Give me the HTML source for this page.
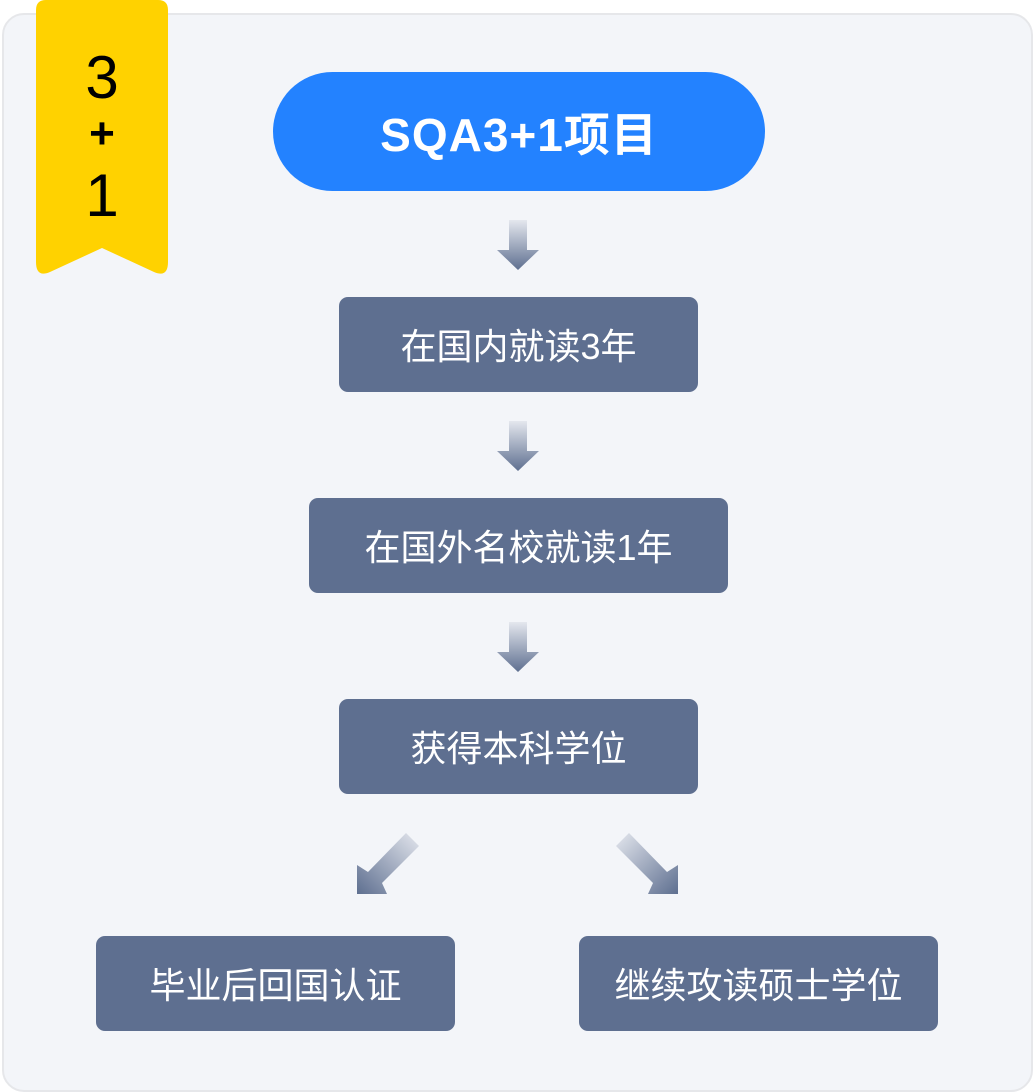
<!DOCTYPE html>
<html><head><meta charset="utf-8"><style>
body{margin:0;width:1035px;height:1092px;background:#fff;position:relative;overflow:hidden;font-family:"Liberation Sans","Noto Sans CJK SC",sans-serif}
.card{position:absolute;left:2px;top:13px;width:1027px;height:1075px;background:#f3f5f9;border:2px solid #e6e7ea;border-radius:22px}
.box{position:absolute;background:#5e6f90;color:#fff;border-radius:9px;font-size:36px;display:flex;align-items:center;justify-content:center;padding-bottom:2px;box-sizing:border-box}
.pill{position:absolute;left:273px;top:72px;width:492px;height:119px;border-radius:60px;background:#2382ff;color:#fff;font-size:46px;font-weight:bold;letter-spacing:1px;display:flex;align-items:center;justify-content:center}
.badge{position:absolute;left:36px;top:0;width:132px;height:276px}
.bt{position:absolute;left:36px;width:132px;text-align:center;color:#000;font-size:60px;line-height:1}
</style></head><body>
<div class="card"></div>
<svg class="badge" viewBox="0 0 132 276"><path d="M10 0H122Q132 0 132 10V262Q132 278 118 272L66 248L14 272Q0 278 0 262V10Q0 0 10 0Z" fill="#ffd200"/></svg>
<div class="bt" style="top:48px">3</div>
<div class="bt" style="top:112px;font-size:44px;font-weight:bold">+</div>
<div class="bt" style="top:166px">1</div>
<div class="pill">SQA3+1项目</div>
<svg style="position:absolute;left:0;top:0" width="1035" height="1092">
<defs>
<linearGradient id="gd" x1="0" y1="0" x2="0" y2="1"><stop offset="0" stop-color="#e4e7ee"/><stop offset="1" stop-color="#5e6f90"/></linearGradient>
<linearGradient id="gl" x1="1" y1="0" x2="0" y2="1"><stop offset="0" stop-color="#e4e7ee"/><stop offset="1" stop-color="#5e6f90"/></linearGradient>
<linearGradient id="gr" x1="0" y1="0" x2="1" y2="1"><stop offset="0" stop-color="#e4e7ee"/><stop offset="1" stop-color="#5e6f90"/></linearGradient>
<path id="da" d="M509 0H527V30H539L518 50L497 30H509Z"/>
</defs>
<use href="#da" y="220" fill="url(#gd)"/>
<use href="#da" y="421" fill="url(#gd)"/>
<use href="#da" y="622" fill="url(#gd)"/>
<path d="M406 833L419 846L382 883L387 894L357 894L357 865L368 872Z" fill="url(#gl)"/>
<path d="M629 833L616 846L653 883L648 894L678 894L678 865L667 872Z" fill="url(#gr)"/>
</svg>
<div class="box" style="left:339px;top:297px;width:359px;height:95px">在国内就读3年</div>
<div class="box" style="left:309px;top:498px;width:419px;height:95px">在国外名校就读1年</div>
<div class="box" style="left:339px;top:699px;width:359px;height:95px">获得本科学位</div>
<div class="box" style="left:96px;top:936px;width:359px;height:95px">毕业后回国认证</div>
<div class="box" style="left:579px;top:936px;width:359px;height:95px">继续攻读硕士学位</div>
</body></html>
